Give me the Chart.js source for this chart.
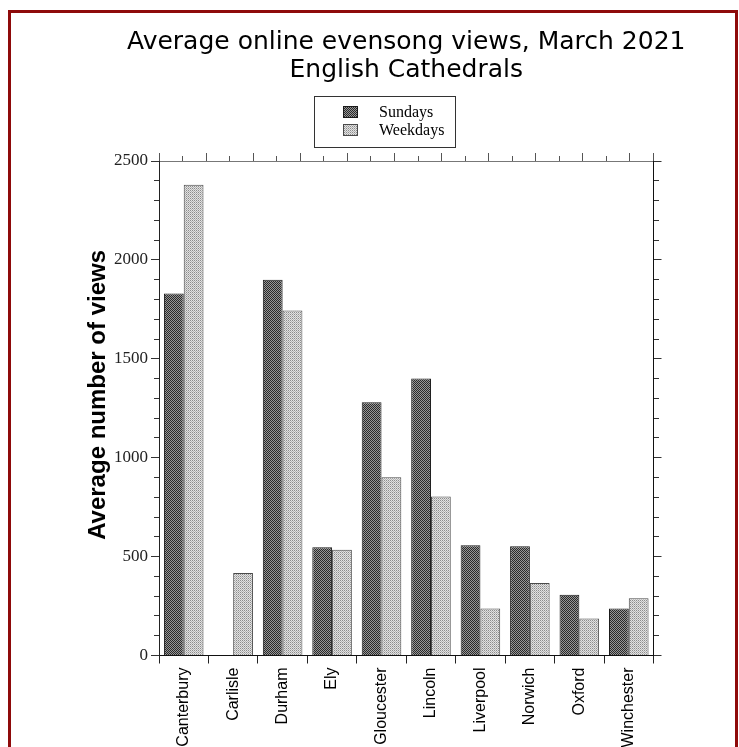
<!DOCTYPE html>
<html>
<head>
<meta charset="utf-8">
<title>Average online evensong views, March 2021</title>
<script src="https://cdn.jsdelivr.net/npm/chart.js@4.4.1/dist/chart.umd.min.js"></script>
<style>
  html, body { margin: 0; padding: 0; background: #fff; overflow: hidden; }
  body { width: 739px; height: 747px; position: relative; }
  #chart { position: absolute; left: 0; top: 0; }
  #frame {
    position: absolute; left: 8px; top: 10px; width: 730px; height: 820px;
    box-sizing: border-box; border: 3px solid #8e0a0a; pointer-events: none;
  }
</style>
</head>
<body>
<canvas id="chart" width="739" height="800"></canvas>
<div id="frame"></div>
<script>
const titleLines = ['Average online evensong views, March 2021', 'English Cathedrals'];
const yTitle = 'Average number of views';
const cathedrals = ['Canterbury', 'Carlisle', 'Durham', 'Ely', 'Gloucester',
                    'Lincoln', 'Liverpool', 'Norwich', 'Oxford', 'Winchester'];
const sundays  = [1830, 0, 1900, 547, 1280, 1400, 557, 552, 307, 238];
const weekdays = [2380, 417, 1744, 535, 901, 804, 238, 366, 187, 289];
const yLabels  = [0, 500, 1000, 1500, 2000, 2500];

// chart area edges
const AREA_LEFT = 159, AREA_RIGHT = 653.5, AREA_TOP = 161, AREA_BOTTOM = 655.5;
const CANVAS_W = 739, CANVAS_H = 800;
// left padding so the full-width title centres over the plot
const PAD_LEFT = 2 * (AREA_LEFT + AREA_RIGHT) / 2 - CANVAS_W;
const TITLE_PAD = 28, TITLE_LINE = 28;

function makePattern(cells) {
    const c = document.createElement('canvas');
    c.width = 2; c.height = 2;
    const g = c.getContext('2d');
    cells.forEach((col, i) => {
        g.fillStyle = col;
        g.fillRect(i % 2, Math.floor(i / 2), 1, 1);
    });
    return g.createPattern(c, 'repeat');
}

const ctx = document.getElementById('chart').getContext('2d');
const sundayFill  = makePattern(['#2a2a2a', '#979797', '#979797', '#2a2a2a']);
const weekdayFill = makePattern(['#8c8c8c', '#e2e2e2', '#e2e2e2', '#b4b4b4']);

const isMajor = v => yLabels.includes(v);

// boxed legend, stacked vertically as in the original
const boxLegend = {
    id: 'boxLegend',
    afterDraw(chart) {
        const c = chart.ctx;
        const x = chart.chartArea.left + 155;
        const y = chart.chartArea.top - 65;
        c.save();
        c.lineWidth = 1;
        c.strokeStyle = '#333';
        c.strokeRect(x + 0.5, y + 0.5, 141, 51);
        chart.data.datasets.forEach((ds, i) => {
            const sy = y + 10 + i * 18;
            c.fillStyle = ds.backgroundColor;
            c.fillRect(x + 29, sy, 15, 12);
            c.strokeStyle = ds.borderColor;
            c.strokeRect(x + 29.5, sy + 0.5, 14, 11);
            c.fillStyle = '#000';
            c.font = '16px "Liberation Serif", "Times New Roman", serif';
            c.textBaseline = 'middle';
            c.textAlign = 'left';
            c.fillText(ds.label, x + 65, sy + 7);
        });
        c.restore();
    }
};

new Chart(ctx, {
    type: 'bar',
    data: {
        labels: cathedrals,
        datasets: [{
            label: 'Sundays',
            data: sundays,
            backgroundColor: sundayFill,
            borderColor: '#1a1a1a',
            borderWidth: 1,
            categoryPercentage: 0.8,
            barPercentage: 1.0
        }, {
            label: 'Weekdays',
            data: weekdays,
            backgroundColor: weekdayFill,
            borderColor: '#4a4a4a',
            borderWidth: 1,
            categoryPercentage: 0.8,
            barPercentage: 1.0
        }]
    },
    options: {
        responsive: false,
        animation: false,
        layout: { padding: { left: PAD_LEFT, right: 0, top: 0, bottom: 0 } },
        scales: {
            x: {
                position: 'bottom',
                offset: true,
                grid: { offset: true, drawOnChartArea: false, tickLength: 8, tickColor: '#222' },
                border: { color: '#111' },
                ticks: {
                    autoSkip: false, minRotation: 90, maxRotation: 90, padding: 4,
                    color: '#000',
                    font: { family: '"Liberation Sans", Arial, sans-serif', size: 16 }
                },
                afterFit: s => { s.height = CANVAS_H - AREA_BOTTOM; }
            },
            x2: {
                type: 'linear',
                position: 'top',
                min: -0.5,
                max: 9.5,
                ticks: { display: false, stepSize: 0.5, maxTicksLimit: 100 },
                grid: {
                    drawOnChartArea: false, tickLength: 8, tickColor: '#555',
                    tickBorderDash: c => (c.tick && Number.isInteger(c.tick.value)) ? [0, 3, 5, 100] : []
                },
                border: { color: '#777' },
                afterFit: s => { s.height = AREA_TOP - TITLE_PAD - 2 * TITLE_LINE; }
            },
            y: {
                position: 'left',
                min: 0,
                max: 2500,
                ticks: {
                    stepSize: 100, maxTicksLimit: 100, autoSkip: false, padding: 3,
                    color: '#222',
                    font: { family: '"Liberation Serif", "Times New Roman", serif', size: 17 },
                    callback: v => isMajor(v) ? v : ''
                },
                grid: {
                    drawOnChartArea: false, tickLength: 8, tickColor: '#333',
                    tickBorderDash: c => (c.tick && !isMajor(c.tick.value)) ? [0, 3, 5, 100] : []
                },
                border: { color: '#222' },
                title: {
                    display: true,
                    text: '    ' + yTitle,
                    color: '#000',
                    font: { family: '"Liberation Sans", Arial, sans-serif', size: 24, weight: 'bold' },
                    padding: { top: 84 - PAD_LEFT, bottom: 0 }
                },
                afterFit: s => { s.width = AREA_LEFT - PAD_LEFT; }
            },
            y2: {
                position: 'right',
                min: 0,
                max: 2500,
                ticks: { display: false, stepSize: 100, maxTicksLimit: 100 },
                grid: {
                    drawOnChartArea: false, tickLength: 8, tickColor: '#333',
                    tickBorderDash: c => (c.tick && !isMajor(c.tick.value)) ? [5, 100] : []
                },
                border: { color: '#111' },
                afterFit: s => { s.width = CANVAS_W - AREA_RIGHT; }
            }
        },
        plugins: {
            legend: { display: false },
            tooltip: { enabled: false },
            title: {
                display: true,
                text: titleLines,
                fullSize: true,
                color: '#000',
                font: { family: '"DejaVu Sans", Verdana, sans-serif', size: 25, weight: 'normal', lineHeight: TITLE_LINE / 25 },
                padding: { top: TITLE_PAD, bottom: 0 }
            }
        }
    },
    plugins: [boxLegend]
});
</script>
</body>
</html>
